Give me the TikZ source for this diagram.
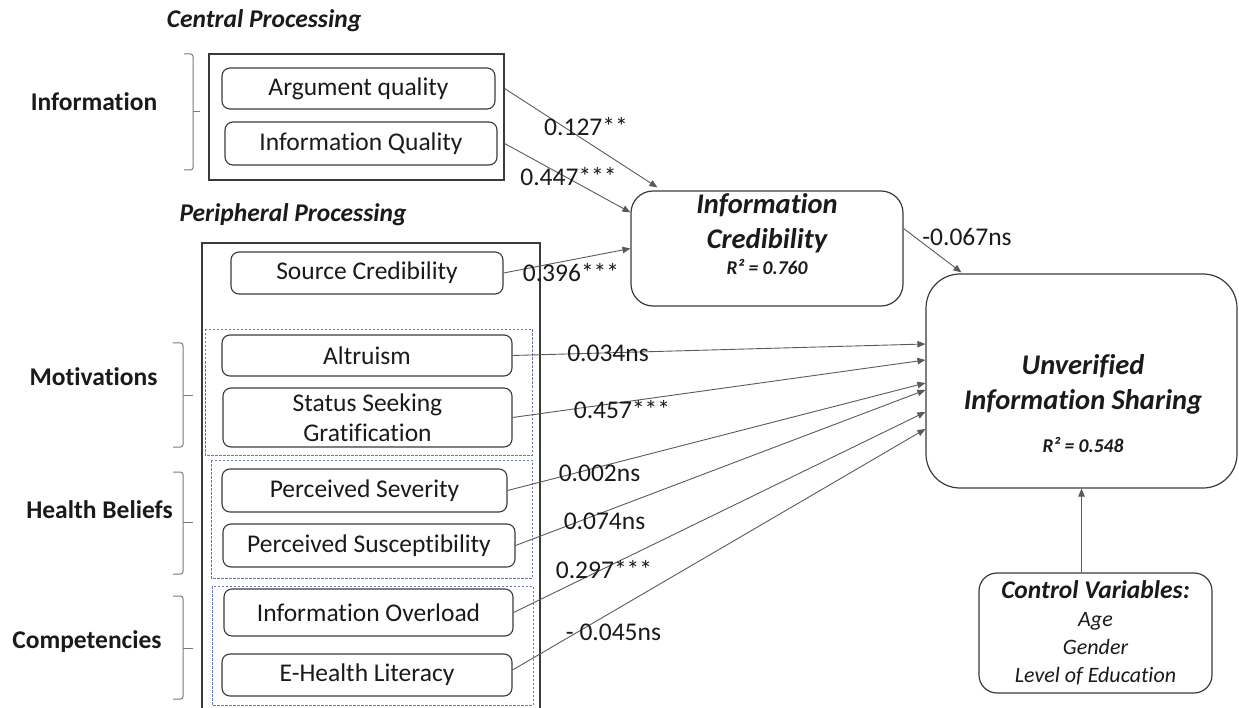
\documentclass[tikz,border=0pt]{standalone}
\usepackage{fontspec}
\setmainfont{Carlito}[Ligatures=NoCommon]
\usetikzlibrary{arrows.meta,calc}
\definecolor{boxc}{HTML}{3A3A3A}
\definecolor{linec}{HTML}{5A5A5A}
\definecolor{dashc}{HTML}{6678B8}
\definecolor{brkc}{HTML}{7A7A7A}
\definecolor{txtc}{HTML}{1A1A1A}
\newcommand\fsz{\fontsize{25.5}{30}\selectfont}
\newcommand\fbig{\fontsize{28.5}{35}\selectfont}
\newcommand\fsm{\fontsize{19.5}{24}\selectfont}
\newcommand\fit{\fontsize{22}{28}\selectfont}
\tikzset{
  item/.style={draw=boxc, line width=1.1pt, rounded corners=8pt, inner sep=0pt, align=center, font=\fsz, text=txtc},
  frame/.style={draw=boxc, line width=1.2pt, inner sep=0pt},
  bigbox/.style={draw=boxc, line width=1.2pt, inner sep=0pt},
  dbox/.style={draw=dashc, line width=0.8pt, dash pattern=on 2.5pt off 1.5pt},
  brk/.style={draw=brkc, line width=1pt, rounded corners=2.5pt},
  arr/.style={draw=linec, line width=0.9pt, -{Triangle[length=8pt,width=6.5pt]}},
  coef/.style={font=\fsz, inner sep=0pt, text=txtc},
  grp/.style={font=\fsz\bfseries, inner sep=0pt, text=txtc},
  head/.style={font=\fsz\bfseries\itshape, inner sep=0pt, text=txtc},
}
\begin{document}
\begin{tikzpicture}[x=1pt,y=-1pt]
\useasboundingbox (0,0) rectangle (1239,708);
% headings
\node[head] (hcentral) at (264,21) {Central Processing};
\node[head] (hperiph) at (293,215) {Peripheral Processing};
% group labels
\node[grp] (ginfo) at (94,102) {Information};
\node[grp] (gmot) at (93.5,377) {Motivations};
\node[grp] (ghb) at (99.5,510) {Health Beliefs};
\node[grp] (gcomp) at (87,642) {Competencies};
% brackets
\draw[brk] (184,54) -- (193,54) -- (193,170) -- (184,170);
\draw[brk] (193,112) -- (200,112);
\draw[brk] (173,343) -- (183,343) -- (183,447) -- (173,447);
\draw[brk] (183,395) -- (193,395);
\draw[brk] (173,472) -- (183,472) -- (183,574) -- (173,574);
\draw[brk] (183,522) -- (193,522);
\draw[brk] (173,596) -- (183,596) -- (183,699) -- (173,699);
\draw[brk] (183,648) -- (193,648);
% central processing frame
\node[frame, minimum width=295pt, minimum height=126pt] (infobox) at (356.5,117) {};
\node[item, minimum width=273pt, minimum height=41pt] (aq) at (358.5,88.5) {Argument quality};
\node[item, minimum width=272pt, minimum height=43pt] (iq) at (361,143.5) {Information Quality};
% peripheral frame (open at the bottom edge)
\draw[draw=boxc, line width=1.2pt] (202,712) -- (202,243) -- (540,243) -- (540,712);
\draw[dbox] (205,329) rectangle (532,455);
\draw[dbox] (211,460) rectangle (532,578);
\draw[dbox] (212,586) rectangle (533,705);
\node[item, minimum width=272pt, minimum height=42pt] (sc) at (367,273) {Source Credibility};
\node[item, minimum width=290pt, minimum height=41pt] (alt) at (367,355.5) {Altruism};
\node[item, minimum width=289pt, minimum height=59pt] (ss) at (367.5,417.5) {Status Seeking\\Gratification};
\node[item, minimum width=285pt, minimum height=43pt] (ps) at (364.5,490.5) {Perceived Severity};
\node[item, minimum width=292pt, minimum height=43pt] (psu) at (369,545.5) {Perceived Susceptibility};
\node[item, minimum width=289pt, minimum height=47pt] (io) at (368.5,612.5) {Information Overload};
\node[item, minimum width=290pt, minimum height=42pt] (eh) at (367,675) {E-Health Literacy};
% outcome boxes
\node[bigbox, rounded corners=22pt, minimum width=272pt, minimum height=115pt] (ic) at (767,248.5) {};
\node[inner sep=0pt, align=center, text=txtc, font=\fbig\bfseries\itshape] (ictext) at (767,234) {Information\\Credibility\\[-9pt]{\fsm R² = 0.760}};
\node[bigbox, rounded corners=34pt, minimum width=311pt, minimum height=214pt] (uis) at (1081.5,381) {};
\node[inner sep=0pt, align=center, text=txtc, font=\fbig\bfseries\itshape] (uistext) at (1083,404) {Unverified\\Information Sharing\\[8pt]{\fsm R² = 0.548}};
\node[bigbox, rounded corners=18pt, minimum width=233pt, minimum height=120pt, align=center, text=txtc, font=\fit\itshape] (cv) at (1095.5,633) {{\fsz\bfseries Control Variables:}\\Age\\Gender\\Level of Education};
% connectors
\draw[arr] (infobox.east |- aq.east) -- ($(ic.north west)+(27,-3)$);
\draw[arr] (infobox.east |- iq.east) -- ($(ic.north west)+(0,22)$);
\draw[arr] (sc.east) -- (ic.west);
\draw[arr] ($(ic.east)+(0,-20)$) -- ($(uis.north west)+(36,-1)$);
\draw[arr] (alt.east) -- ($(uis.west)+(0,-37)$);
\draw[arr] (ss.east) -- ($(uis.west)+(0,-21)$);
\draw[arr] (ps.east) -- ($(uis.west)+(0,2)$);
\draw[arr] (psu.east) -- ($(uis.west)+(0,9)$);
\draw[arr] (io.east) -- ($(uis.west)+(0,31)$);
\draw[arr] ($(eh.east)+(0,-5)$) -- ($(uis.west)+(0,48)$);
\draw[arr] (uis.south |- cv.north) -- (uis.south);
% coefficients
\node[coef] (c1) at (586,127) {0.127**};
\node[coef] (c2) at (568.5,177) {0.447***};
\node[coef] (c3) at (571,273) {0.396***};
\node[coef] (c4) at (967,237) {-0.067ns};
\node[coef] (c5) at (608,353) {0.034ns};
\node[coef] (c6) at (622,410) {0.457***};
\node[coef] (c7) at (599.5,473) {0.002ns};
\node[coef] (c8) at (604.5,521) {0.074ns};
\node[coef] (c9) at (604,570) {0.297***};
\node[coef] (c10) at (613.5,632) {- 0.045ns};
\end{tikzpicture}
\end{document}
